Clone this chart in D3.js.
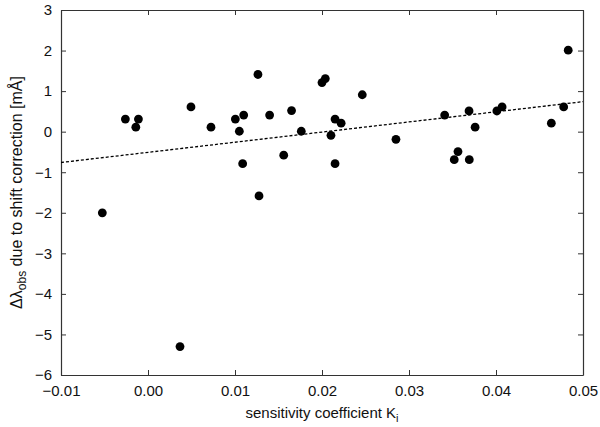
<!DOCTYPE html>
<html><head><meta charset="utf-8">
<script src="https://cdn.jsdelivr.net/npm/d3@7"></script>
<style>body{margin:0;background:#fff}text{font-family:"Liberation Sans",Arial,sans-serif;fill:#111}</style>
</head><body>
<svg id="c" width="600" height="427"></svg>
<script>
const kValues = [-0.00525,-0.0026,-0.0014,-0.0011,0.00368,0.00494,0.00724,0.01004,0.0105,0.011,0.01088,0.01264,0.01276,0.01398,0.0156,0.0165,0.01762,0.02,0.02038,0.02103,0.0215,0.0215,0.0222,0.02463,0.0285,0.0341,0.0352,0.03563,0.0369,0.03693,0.0376,0.0401,0.0407,0.04636,0.04778,0.0483];
const dLambda = [-2.0,0.31,0.11,0.31,-5.3,0.61,0.11,0.31,0.01,0.41,-0.79,1.41,-1.585,0.41,-0.58,0.52,0.01,1.21,1.31,-0.09,0.31,-0.79,0.21,0.91,-0.19,0.41,-0.69,-0.49,0.51,-0.69,0.11,0.51,0.61,0.21,0.61,2.01];
const fitX = [-0.01, 0.05];
const fitY = [-0.76, 0.74];
const xTicks = [-0.01,0,0.01,0.02,0.03,0.04,0.05];
const yTicks = [3,2,1,0,-1,-2,-3,-4,-5,-6];

const svg = d3.select("#c");
const L=61,R=583,T=10,B=375;
const x = d3.scaleLinear().domain([-0.01,0.05]).range([L,R]);
const y = d3.scaleLinear().domain([-6,3]).range([B,T]);
const fmtX = d => (d<0?"\u2212":"")+Math.abs(d).toFixed(2);
const fmtY = d => (d<0?"\u2212":"")+Math.abs(d);

function styleAxis(g){g.selectAll("path").attr("stroke","#333").attr("stroke-width",1.2);g.selectAll("line").attr("stroke","#333").attr("stroke-width",1);g.selectAll("text").style("font-size","15px").attr("fill","#111");}

svg.append("g").attr("transform",`translate(0,${B})`).call(d3.axisBottom(x).tickValues(xTicks).tickFormat(fmtX).tickSizeInner(-5).tickSizeOuter(0).tickPadding(10)).call(styleAxis);
svg.append("g").attr("transform",`translate(0,${T})`).call(d3.axisTop(x).tickValues(xTicks).tickFormat("").tickSizeInner(-5).tickSizeOuter(0)).call(styleAxis);
svg.append("g").attr("transform",`translate(${L},0)`).call(d3.axisLeft(y).tickValues(yTicks).tickFormat(fmtY).tickSizeInner(-5).tickSizeOuter(0).tickPadding(9)).call(styleAxis);
svg.append("g").attr("transform",`translate(${R},0)`).call(d3.axisRight(y).tickValues(yTicks).tickFormat("").tickSizeInner(-5).tickSizeOuter(0)).call(styleAxis);

svg.append("line").attr("x1",x(fitX[0])).attr("y1",y(fitY[0])).attr("x2",x(fitX[1])).attr("y2",y(fitY[1]))
  .attr("stroke","#000").attr("stroke-width",1.3).attr("stroke-dasharray","3,2");

svg.append("g").selectAll("circle").data(kValues).join("circle")
  .attr("cx",d=>x(d)).attr("cy",(d,i)=>y(dLambda[i])).attr("r",4.4).attr("fill","#000");

const xl = svg.append("text").attr("x",(L+R)/2).attr("y",418).attr("text-anchor","middle").style("font-size","15px");
xl.append("tspan").text("sensitivity coefficient K");
xl.append("tspan").attr("dy",4).style("font-size","11px").text("i");

const yl = svg.append("text").attr("transform",`translate(22,${(T+B)/2}) rotate(-90)`).attr("text-anchor","middle").style("font-size","16px");
yl.append("tspan").text("\u0394\u03bb");
yl.append("tspan").attr("dy",4).style("font-size","12px").text("obs");
yl.append("tspan").attr("dy",-4).text(" due to shift correction [m\u00c5]");
</script>
</body></html>
